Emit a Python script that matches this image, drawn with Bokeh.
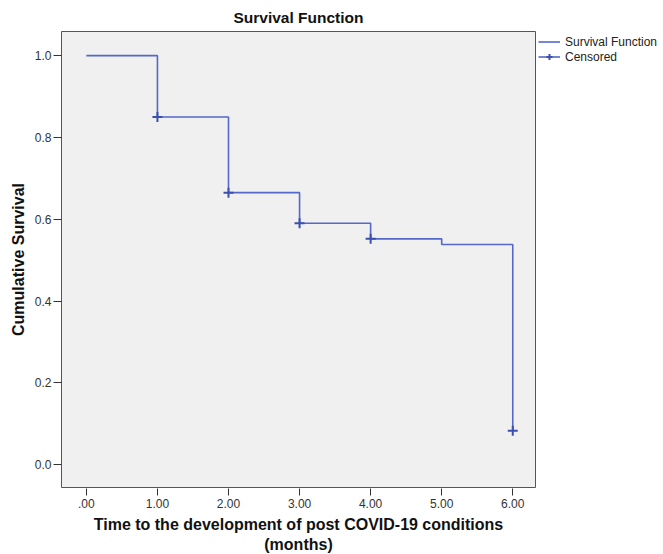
from bokeh.plotting import figure
from bokeh.models import FixedTicker, Legend, LegendItem, Range1d
from bokeh.embed import file_html
from bokeh.resources import INLINE

# data
times = [0, 1, 2, 3, 4, 5, 6]
survival = [1.0, 0.85, 0.665, 0.59, 0.552, 0.538, 0.083]
cens_t = [1, 2, 3, 4, 6]
cens_s = [0.85, 0.665, 0.59, 0.552, 0.083]
x_ticks = [0, 1, 2, 3, 4, 5, 6]
x_tick_labels = [".00", "1.00", "2.00", "3.00", "4.00", "5.00", "6.00"]
y_ticks = [0.0, 0.2, 0.4, 0.6, 0.8, 1.0]
y_tick_labels = ["0.0", "0.2", "0.4", "0.6", "0.8", "1.0"]

FONT = "Liberation Sans"
LINE = "#5368c8"
MARK = "#3a4fae"

p = figure(frame_width=474, frame_height=456, output_backend="svg", toolbar_location=None,
           x_range=Range1d(-0.35, 6.32), y_range=Range1d(-0.056, 1.059),
           min_border_left=61, min_border_right=0, min_border_top=31,
           min_border_bottom=59)
p.background_fill_color = "#f0f0f0"
p.border_fill_color = "white"
p.outline_line_color = "#555555"
p.outline_line_width = 1
p.xgrid.visible = False
p.ygrid.visible = False

p.title.text = "Survival Function"
p.title.align = "center"
p.title.text_font = FONT
p.title.text_font_size = "15.5px"
p.title.text_font_style = "bold"
p.title.text_color = "#111111"
p.title.standoff = 11

step_r = p.step(times, survival, mode="after", line_color=LINE, line_width=1.6)
cross_r = p.scatter(cens_t, cens_s, marker="cross", size=10, line_color=MARK, line_width=2)

# axes
xa = p.xaxis[0]
xa.ticker = FixedTicker(ticks=x_ticks)
xa.major_label_overrides = {t: l for t, l in zip(x_ticks, x_tick_labels)}
xa.axis_line_color = None
xa.major_tick_in = -1
xa.major_tick_out = 8
xa.major_tick_line_color = "#333333"
xa.minor_tick_line_color = None
xa.major_label_text_font = FONT
xa.major_label_text_font_size = "12px"
xa.major_label_text_color = "#333333"
xa.major_label_standoff = 3
xa.axis_label = "Time to the development of post COVID-19 conditions\n(months)"
xa.axis_label_text_font = FONT
xa.axis_label_text_font_size = "16px"
xa.axis_label_text_font_style = "bold"
xa.axis_label_text_color = "#111111"
xa.axis_label_standoff = 5

ya = p.yaxis[0]
ya.ticker = FixedTicker(ticks=y_ticks)
ya.major_label_overrides = {t: l for t, l in zip(y_ticks, y_tick_labels)}
ya.axis_line_color = None
ya.major_tick_in = 0
ya.major_tick_out = 8
ya.major_tick_line_color = "#333333"
ya.minor_tick_line_color = None
ya.major_label_text_font = FONT
ya.major_label_text_font_size = "12px"
ya.major_label_text_color = "#333333"
ya.major_label_standoff = 2
ya.axis_label = "Cumulative Survival"
ya.axis_label_text_font = FONT
ya.axis_label_text_font_size = "16px"
ya.axis_label_text_font_style = "bold"
ya.axis_label_text_color = "#111111"
ya.axis_label_standoff = 5

legend = Legend(items=[
    LegendItem(label="Survival Function", renderers=[step_r]),
    LegendItem(label="Censored", renderers=[step_r, cross_r]),
], location="top_left")
legend.margin = 3
legend.padding = 0
legend.spacing = 0
legend.glyph_width = 22
legend.glyph_height = 15
legend.label_height = 15
legend.label_standoff = 5
legend.label_text_font = FONT
legend.label_text_font_size = "12px"
legend.label_text_color = "#222222"
legend.border_line_color = None
legend.background_fill_alpha = 0
p.add_layout(legend, "right")

open("out.html", "w").write(file_html(p, INLINE))
